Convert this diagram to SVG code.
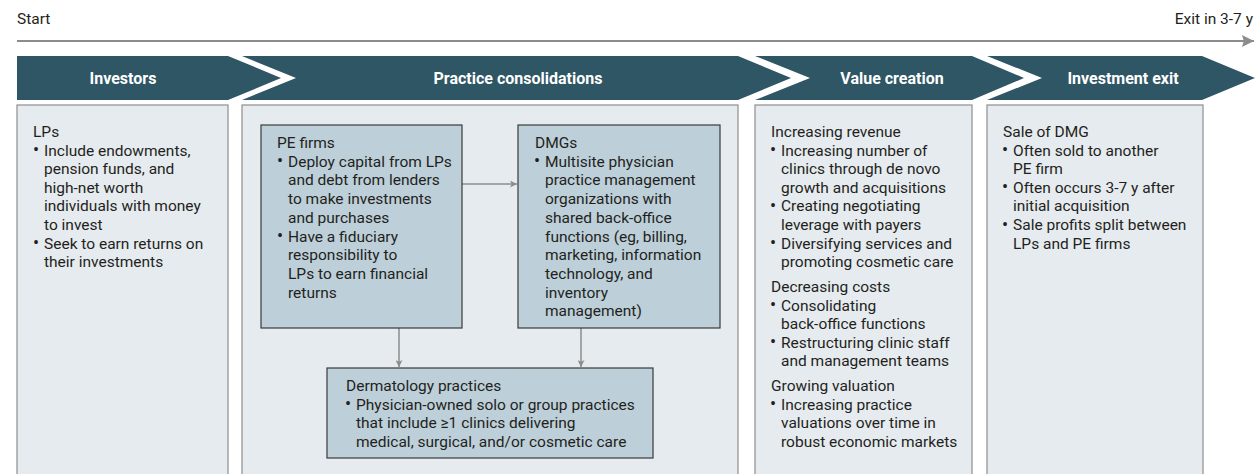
<svg xmlns="http://www.w3.org/2000/svg" width="1260" height="474" viewBox="0 0 1260 474">
  <style>
    text { font-family: Roboto, "Liberation Sans", sans-serif; font-size: 15.5px; fill: #231f20; }
    .bul { font-size: 18px; }
    .head { font-size: 16px; font-weight: bold; fill: #ffffff; text-anchor: middle; }
    .banner { fill: #2e5664; }
    .col { fill: #e6ebef; stroke: #8e8e8e; stroke-width: 1.2; }
    .card { fill: #bdcfd9; stroke: #3a3a3a; stroke-width: 1.2; }
    .link { stroke: #8c8c8c; stroke-width: 1.5; fill: none; }
  </style>
  <defs>
    <marker id="tip" viewBox="0 0 10 10" refX="10" refY="5" markerWidth="8" markerHeight="7" markerUnits="userSpaceOnUse" orient="auto">
      <path d="M0,0 L10,5 L0,10 L2.5,5 z" fill="#8c8c8c"/>
    </marker>
    <marker id="timeTip" viewBox="0 0 10 10" refX="10" refY="5" markerWidth="19" markerHeight="12" markerUnits="userSpaceOnUse" orient="auto">
      <path d="M0,0 L10,5 L0,10 L1.5,5 z" fill="#8c8c8c"/>
    </marker>
  </defs>

  <!-- timeline -->
  <g id="timeline">
    <text x="17" y="24">Start</text>
    <text x="1253" y="24" text-anchor="end">Exit in 3-7 y</text>
    <line x1="17" y1="41" x2="1254" y2="41" stroke="#8c8c8c" stroke-width="2" marker-end="url(#timeTip)"/>
  </g>

  <!-- stage banners -->
  <g id="stage-investors">
    <path class="banner" d="M17,56 H228 L281,78 L228,100 H17 Z"/>
    <text class="head" x="123" y="83.5">Investors</text>
    <rect class="col" x="17" y="105" width="211" height="380"/>
  </g>
  <g id="stage-consolidations">
    <path class="banner" d="M242,56 H738 L791,78 L738,100 H242 L296,78 Z"/>
    <text class="head" x="518" y="83.5">Practice consolidations</text>
    <rect class="col" x="242" y="105" width="496" height="380"/>
  </g>
  <g id="stage-value">
    <path class="banner" d="M755,56 H972 L1024,78 L972,100 H755 L810,78 Z"/>
    <text class="head" x="892" y="83.5">Value creation</text>
    <rect class="col" x="755" y="105" width="217" height="380"/>
  </g>
  <g id="stage-exit">
    <path class="banner" d="M987,56 H1202 L1255,78 L1202,100 H987 L1042,78 Z"/>
    <text class="head" x="1123" y="83.5">Investment exit</text>
    <rect class="col" x="987" y="105" width="216" height="380"/>
  </g>

  <!-- investors column -->
  <g id="lps">
    <text x="33" y="137">LPs</text>
    <text class="bul" x="33" y="156">•</text>
    <text x="44" y="155.6">Include endowments,</text>
    <text x="44" y="174.2">pension funds, and</text>
    <text x="44" y="192.8">high-net worth</text>
    <text x="44" y="211.4">individuals with money</text>
    <text x="44" y="230">to invest</text>
    <text class="bul" x="33" y="249">•</text>
    <text x="44" y="248.6">Seek to earn returns on</text>
    <text x="44" y="267.2">their investments</text>
  </g>

  <!-- connectors -->
  <g id="connectors">
    <line class="link" x1="462" y1="184" x2="517" y2="184" marker-end="url(#tip)"/>
    <line class="link" x1="399" y1="328" x2="399" y2="367" marker-end="url(#tip)"/>
    <line class="link" x1="581" y1="328" x2="581" y2="367" marker-end="url(#tip)"/>
  </g>

  <g id="pe-firms">
    <rect class="card" x="261" y="125" width="201" height="203"/>
    <text x="277" y="148">PE firms</text>
    <text class="bul" x="277" y="167">•</text>
    <text x="288" y="166.7">Deploy capital from LPs</text>
    <text x="288" y="185.4">and debt from lenders</text>
    <text x="288" y="204.1">to make investments</text>
    <text x="288" y="222.8">and purchases</text>
    <text class="bul" x="277" y="242">•</text>
    <text x="288" y="241.5">Have a fiduciary</text>
    <text x="288" y="260.2">responsibility to</text>
    <text x="288" y="278.9">LPs to earn financial</text>
    <text x="288" y="297.6">returns</text>
  </g>

  <g id="dmgs">
    <rect class="card" x="518" y="125" width="202" height="203"/>
    <text x="535" y="148">DMGs</text>
    <text class="bul" x="534" y="167">•</text>
    <text x="545" y="166.7">Multisite physician</text>
    <text x="545" y="185.4">practice management</text>
    <text x="545" y="204.1">organizations with</text>
    <text x="545" y="222.8">shared back-office</text>
    <text x="545" y="241.5">functions (eg, billing,</text>
    <text x="545" y="260.2">marketing, information</text>
    <text x="545" y="278.9">technology, and</text>
    <text x="545" y="297.6">inventory</text>
    <text x="545" y="316.3">management)</text>
  </g>

  <g id="dermatology-practices">
    <rect class="card" x="327" y="368" width="326" height="90"/>
    <text x="346" y="391">Dermatology practices</text>
    <text class="bul" x="345" y="410">•</text>
    <text x="356" y="409.6">Physician-owned solo or group practices</text>
    <text x="356" y="428.2">that include ≥1 clinics delivering</text>
    <text x="356" y="446.8">medical, surgical, and/or cosmetic care</text>
  </g>

  <!-- value creation column -->
  <g id="value-levers">
    <text x="771" y="137">Increasing revenue</text>
    <text class="bul" x="770" y="156">•</text>
    <text x="781" y="155.6">Increasing number of</text>
    <text x="781" y="174.2">clinics through de novo</text>
    <text x="781" y="192.8">growth and acquisitions</text>
    <text class="bul" x="770" y="212">•</text>
    <text x="781" y="211.4">Creating negotiating</text>
    <text x="781" y="230">leverage with payers</text>
    <text class="bul" x="770" y="249">•</text>
    <text x="781" y="248.6">Diversifying services and</text>
    <text x="781" y="267.2">promoting cosmetic care</text>
    <text x="771" y="292">Decreasing costs</text>
    <text class="bul" x="770" y="311">•</text>
    <text x="781" y="310.6">Consolidating</text>
    <text x="781" y="329.2">back-office functions</text>
    <text class="bul" x="770" y="348">•</text>
    <text x="781" y="347.8">Restructuring clinic staff</text>
    <text x="781" y="366.4">and management teams</text>
    <text x="771" y="391">Growing valuation</text>
    <text class="bul" x="770" y="410">•</text>
    <text x="781" y="409.6">Increasing practice</text>
    <text x="781" y="428.2">valuations over time in</text>
    <text x="781" y="446.8">robust economic markets</text>
  </g>

  <!-- exit column -->
  <g id="sale-of-dmg">
    <text x="1003" y="137">Sale of DMG</text>
    <text class="bul" x="1002" y="156">•</text>
    <text x="1013" y="155.6">Often sold to another</text>
    <text x="1013" y="174.2">PE firm</text>
    <text class="bul" x="1002" y="193">•</text>
    <text x="1013" y="192.8">Often occurs 3-7 y after</text>
    <text x="1013" y="211.4">initial acquisition</text>
    <text class="bul" x="1002" y="230.5">•</text>
    <text x="1013" y="230">Sale profits split between</text>
    <text x="1013" y="248.6">LPs and PE firms</text>
  </g>
</svg>
